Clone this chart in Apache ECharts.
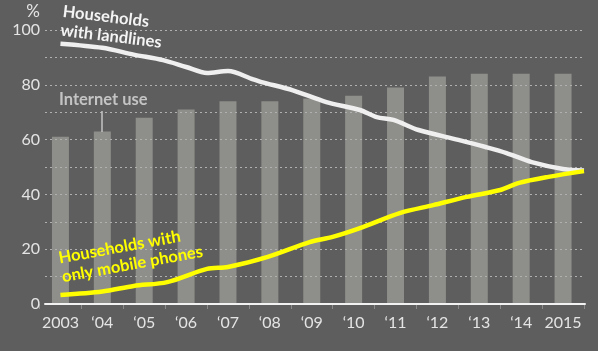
<!DOCTYPE html>
<html>
<head>
<meta charset="utf-8">
<script src="https://cdn.jsdelivr.net/npm/echarts@6/dist/echarts.min.js"></script>
<style>
  html, body { margin: 0; padding: 0; background: #5e5e5e; }
  #chart { width: 598px; height: 351px; }
</style>
</head>
<body>
<div id="chart"></div>
<script>
// years on the category axis
const years = ['2003', '\u201804', '\u201805', '\u201806', '\u201807', '\u201808', '\u201809',
  '\u201810', '\u201811', '\u201812', '\u201813', '\u201814', '2015'];
// internet use, % (bars)
const internetUse = [61, 63, 68, 71, 74, 74, 75, 76, 79, 83, 84, 84, 84];
// households with landlines, [year, %]
const landlines = [
  [2003.0, 95], [2004.0, 93.5], [2004.75, 91], [2005.45, 89], [2006.0, 86.5],
  [2006.5, 84.3], [2007.0, 85], [2007.6, 82], [2007.8, 81], [2008.55, 78],
  [2009.35, 73.7], [2010.15, 70.8], [2010.55, 68.2], [2010.95, 67.2], [2011.55, 63.5],
  [2012.5, 59.9], [2013.15, 57.3], [2013.65, 55.1], [2014.25, 51.8], [2015.0, 49.3],
  [2015.5, 48.7]
];
// households with only mobile phones, [year, %]
const mobileOnly = [
  [2003.0, 3.3], [2004.0, 4.6], [2004.75, 6.6], [2005.55, 8.0], [2006.5, 12.8],
  [2007.0, 13.5], [2007.95, 17.2], [2008.95, 22.6], [2009.5, 24.5], [2010.15, 27.7],
  [2011.1, 33.2], [2011.9, 36.1], [2012.7, 39.1], [2013.5, 41.6], [2013.95, 44.2],
  [2014.65, 46.4], [2015.5, 48.5]
];
// y axis
const yMin = 0, yMax = 100, yStep = 10;

const chart = echarts.init(document.getElementById('chart'));
const labelColor = '#e4e4e4';
const font = 'Lato';

chart.setOption({
  backgroundColor: '#5e5e5e',
  animation: false,
  grid: [
    // bars + lines
    {left: 39.5, right: 14, top: 30, bottom: 47},
    // gridlines + axis line
    {left: 45, right: 13, top: 30, bottom: 47}
  ],
  xAxis: [
    {
      type: 'category', gridIndex: 0, data: years,
      axisLine: {show: false},
      axisTick: {show: true, length: 5, lineStyle: {color: '#8a8a8a', width: 1}},
      axisLabel: {
        color: labelColor, fontSize: 16, fontFamily: font, margin: 11,
        interval: 0, hideOverlap: false
      },
      splitLine: {show: false}
    },
    {type: 'value', gridIndex: 0, min: 2002.5, max: 2015.5, show: false},
    {
      type: 'value', gridIndex: 1, min: 0, max: 1, z: 4,
      axisLine: {show: true, lineStyle: {color: '#f2f2f2', width: 2}},
      axisTick: {show: false}, axisLabel: {show: false}, splitLine: {show: false}
    }
  ],
  yAxis: [
    {type: 'value', gridIndex: 0, min: yMin, max: yMax, show: false},
    {
      type: 'value', gridIndex: 1, min: yMin, max: yMax, interval: yStep, z: 2,
      axisLine: {show: false}, axisTick: {show: false},
      axisLabel: {
        color: labelColor, fontSize: 16, fontFamily: font, margin: 5,
        formatter: v => (v % 20 === 0 ? String(v) : '')
      },
      splitLine: {lineStyle: {color: '#b0b0b0', width: 1, type: [2, 3]}}
    }
  ],
  series: [
    {
      name: 'Internet use', type: 'bar', xAxisIndex: 0, yAxisIndex: 0,
      data: internetUse, barWidth: 17, z: 1,
      itemStyle: {color: '#8e8f8a'}
    },
    {
      name: 'Households with landlines', type: 'line', xAxisIndex: 1, yAxisIndex: 0,
      data: landlines, showSymbol: false, smooth: 0.3, z: 3,
      lineStyle: {color: '#efefef', width: 4.5}
    },
    {
      name: 'Households with only mobile phones', type: 'line', xAxisIndex: 1, yAxisIndex: 0,
      data: mobileOnly, showSymbol: false, smooth: 0.3, z: 3,
      lineStyle: {color: '#ffff00', width: 4.5}
    }
  ],
  graphic: [
    {
      type: 'text', x: 40, y: 3, z: 10,
      style: {text: '%', fill: labelColor, font: '17px Lato', textAlign: 'right'}
    },
    {
      type: 'text', x: 64, y: 2, rotation: -0.12, z: 10,
      style: {
        text: 'Households\nwith landlines', fill: '#f4f4f4',
        font: 'bold 16.5px Lato', lineHeight: 19
      }
    },
    {
      type: 'text', x: 59, y: 91, z: 10,
      style: {text: 'Internet use', fill: '#c4c4c4', font: 'bold 16.5px Lato'}
    },
    {
      type: 'line', z: 10,
      shape: {x1: 102, y1: 111, x2: 102, y2: 132},
      style: {stroke: '#c4c4c4', lineWidth: 1.5}
    },
    {
      type: 'text', x: 57, y: 249, rotation: 0.18, z: 10,
      style: {
        text: 'Households with\nonly mobile phones', fill: '#ffff00',
        font: 'bold 16.5px Lato', lineHeight: 19
      }
    }
  ]
});
</script>
</body>
</html>
